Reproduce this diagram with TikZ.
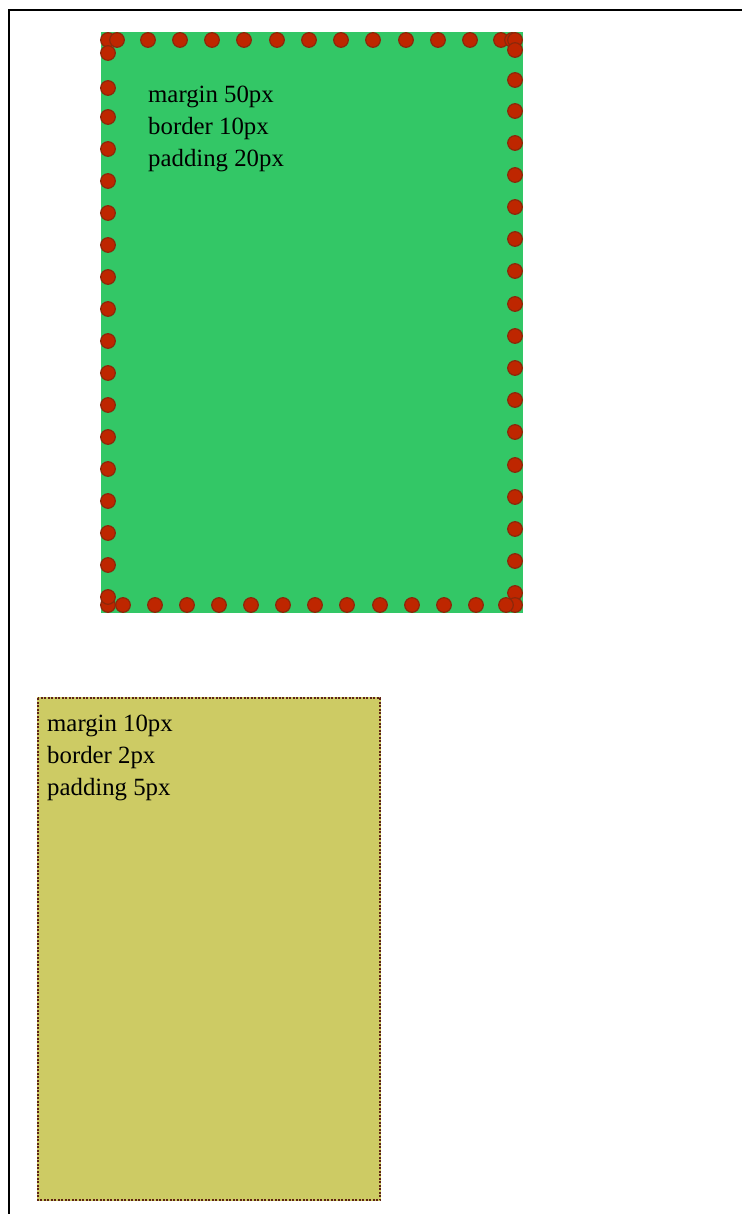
\documentclass[tikz,border=0pt]{standalone}
\usepackage{fontspec}
\setmainfont{Liberation Serif}
\definecolor{boxgreen}{RGB}{51,199,102}
\definecolor{boxyellow}{RGB}{205,203,100}
\definecolor{dotred}{RGB}{190,38,0}
\definecolor{dotedge}{RGB}{140,40,10}
\definecolor{dotbrown}{RGB}{95,35,20}
\tikzset{
  bigdot/.style={fill=dotred,draw=dotedge,line width=1.2pt},
  label text/.style={anchor=base west,align=left,inner sep=0pt,font=\fontsize{24.8}{32}\selectfont},
}
\begin{document}
\begin{tikzpicture}[x=1pt,y=-1pt]
\useasboundingbox (0,0) rectangle (742,1214);
\fill[white] (0,0) rectangle (742,1214);
% outer frame
\draw[line width=2pt] (9,1214) -- (9,10) -- (742,10);
% green box
\fill[boxgreen] (101,32) rectangle (523,613);
\foreach \x in {108,117,148,180,212,244,277,309,341,373,406,438,470,501,512,515}
  \draw[bigdot] (\x,40) circle (7.3);
\foreach \y in {50,80,111,143,175,207,239,271,304,336,368,400,432,465,497,529,561,593,605}
  \draw[bigdot] (515,\y) circle (7.3);
\foreach \x in {506,476,444,412,380,347,315,283,251,219,187,155,123,108}
  \draw[bigdot] (\x,605) circle (7.3);
\foreach \y in {597,565,533,501,469,437,405,373,341,309,277,245,213,181,149,117,88,53}
  \draw[bigdot] (108,\y) circle (7.3);
\node[label text] (t1) at (148,167) {margin 50px\\border 10px\\padding 20px};
% yellow box
\fill[boxyellow] (37,697) rectangle (381,1201);
\draw[dotbrown,line width=2pt,dash pattern=on 2pt off 1.5pt] (38,698) rectangle (380,1200);
\node[label text] (t2) at (47,795) {margin 10px\\border 2px\\padding 5px};
\end{tikzpicture}
\end{document}
